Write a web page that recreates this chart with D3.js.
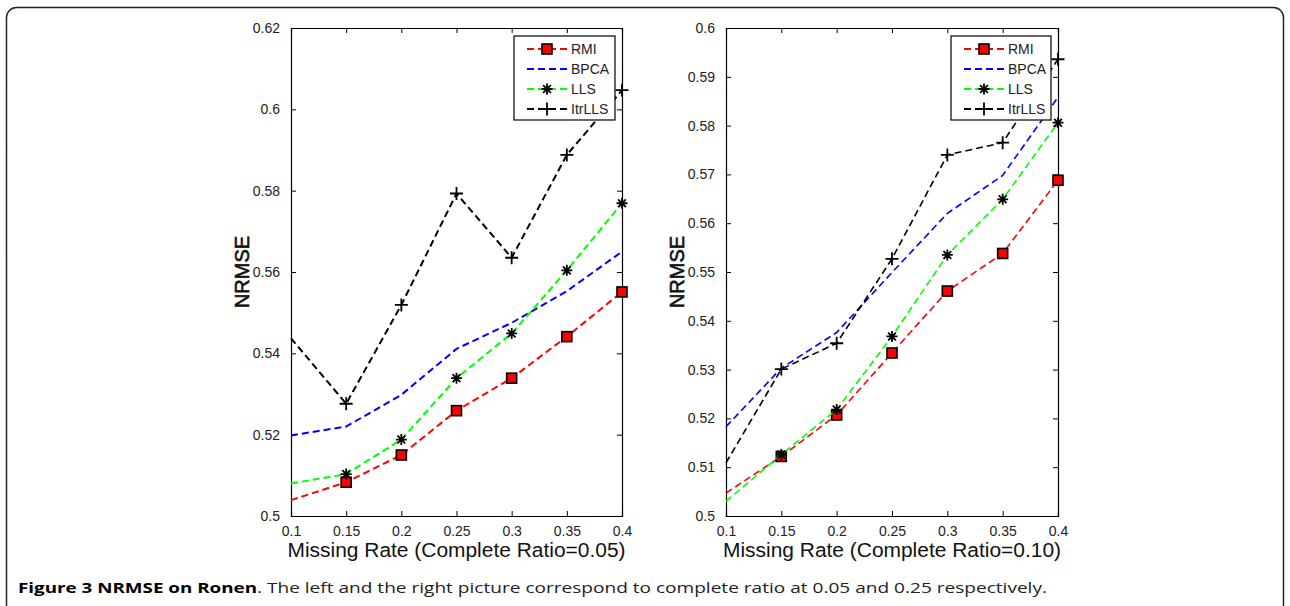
<!DOCTYPE html>
<html lang="en">
<head>
    <meta charset="UTF-8">
    <title>Figure 3 NRMSE on Ronen</title>
    <style>
        body {
            margin: 0;
            background: white;
            font-family: 'Liberation Sans', Arial, sans-serif;
        }
        .tick text { font-family: 'Liberation Sans', Arial, sans-serif; }
    </style>
    <script src="https://d3js.org/d3.v7.min.js"></script>
</head>
<body>
    <div id="chart"></div>
    <script>
        // missing rate on the x axis
        const missingRates = [0.1, 0.15, 0.2, 0.25, 0.3, 0.35, 0.4];
        const methods = ["RMI", "BPCA", "LLS", "ItrLLS"];

        // complete ratio = 0.05
        const rmiLeft    = [0.5039, 0.5083, 0.5150, 0.5259, 0.5339, 0.5441, 0.5551];
        const bpcaLeft   = [0.5198, 0.5220, 0.5298, 0.5411, 0.5475, 0.5553, 0.5650];
        const llsLeft    = [0.5080, 0.5103, 0.5188, 0.5339, 0.5449, 0.5604, 0.5769];
        const itrllsLeft = [0.5437, 0.5276, 0.5519, 0.5793, 0.5635, 0.5888, 0.6047];

        // complete ratio = 0.10
        const rmiRight    = [0.5047, 0.5122, 0.5207, 0.5334, 0.5461, 0.5538, 0.5688];
        const bpcaRight   = [0.5183, 0.5303, 0.5376, 0.5499, 0.5620, 0.5698, 0.5858];
        const llsRight    = [0.5030, 0.5126, 0.5218, 0.5368, 0.5535, 0.5649, 0.5806];
        const itrllsRight = [0.5109, 0.5301, 0.5354, 0.5527, 0.5740, 0.5765, 0.5936];

        const xTicks = [0.1, 0.15, 0.2, 0.25, 0.3, 0.35, 0.4];
        const yTicksLeft = [0.5, 0.52, 0.54, 0.56, 0.58, 0.6, 0.62];
        const yTicksRight = [0.5, 0.51, 0.52, 0.53, 0.54, 0.55, 0.56, 0.57, 0.58, 0.59, 0.6];

        const styles = {
            RMI:    { color: "#ff0000", marker: "square" },
            BPCA:   { color: "#0000ff", marker: null },
            LLS:    { color: "#00ff00", marker: "star" },
            ItrLLS: { color: "#000000", marker: "plus" }
        };

        const width = 1290, height = 606;
        const svg = d3.select("#chart").append("svg")
            .attr("width", width)
            .attr("height", height);

        // figure frame
        svg.append("rect")
            .attr("x", 6.5).attr("y", 7.5)
            .attr("width", 1277).attr("height", 620)
            .attr("rx", 10).attr("ry", 10)
            .attr("fill", "none")
            .attr("stroke", "#222")
            .attr("stroke-width", 1.5);

        const panels = [
            {
                left: 291, right: 622, top: 28, bottom: 516,
                yDomain: [0.5, 0.62], yTicks: yTicksLeft, yFmt: d3.format(".2~f"),
                series: [rmiLeft, bpcaLeft, llsLeft, itrllsLeft],
                xlabel: "Missing Rate (Complete Ratio=0.05)",
                legend: { x: 514, y: 36, w: 101, h: 84 },
                lw: 2
            },
            {
                left: 726, right: 1058, top: 28, bottom: 516,
                yDomain: [0.5, 0.6], yTicks: yTicksRight, yFmt: d3.format(".2~f"),
                series: [rmiRight, bpcaRight, llsRight, itrllsRight],
                xlabel: "Missing Rate (Complete Ratio=0.10)",
                legend: { x: 951, y: 36, w: 100, h: 84 },
                lw: 1.6
            }
        ];

        function drawMarker(g, type, x, y) {
            if (type === "square") {
                g.append("rect")
                    .attr("x", x - 5).attr("y", y - 5)
                    .attr("width", 10).attr("height", 10)
                    .attr("fill", "#ff0000")
                    .attr("stroke", "#000")
                    .attr("stroke-width", 1.6);
            } else if (type === "star") {
                const r = 5.5;
                const p = d3.path();
                for (let a = 0; a < 180; a += 45) {
                    const t = (a + 90) * Math.PI / 180;
                    p.moveTo(x - r * Math.cos(t), y - r * Math.sin(t));
                    p.lineTo(x + r * Math.cos(t), y + r * Math.sin(t));
                }
                g.append("path").attr("d", p.toString())
                    .attr("stroke", "#000").attr("stroke-width", 1.8);
            } else if (type === "plus") {
                const r = 6.5;
                g.append("path")
                    .attr("d", `M${x - r},${y}H${x + r}M${x},${y - r}V${y + r}`)
                    .attr("stroke", "#000").attr("stroke-width", 1.8);
            }
        }

        panels.forEach(pn => {
            const x = d3.scaleLinear().domain([0.1, 0.4]).range([pn.left, pn.right]);
            const y = d3.scaleLinear().domain(pn.yDomain).range([pn.bottom, pn.top]);
            const g = svg.append("g");

            // axes box with inward ticks on all sides
            const axFont = "14px";
            const bottomAxis = g.append("g")
                .attr("transform", `translate(0,${pn.bottom})`)
                .call(d3.axisBottom(x).tickValues(xTicks).tickSize(-5).tickPadding(9)
                    .tickFormat(d3.format(".2~f")));
            const topAxis = g.append("g")
                .attr("transform", `translate(0,${pn.top})`)
                .call(d3.axisTop(x).tickValues(xTicks).tickSize(-5).tickFormat(""));
            const leftAxis = g.append("g")
                .attr("transform", `translate(${pn.left},0)`)
                .call(d3.axisLeft(y).tickValues(pn.yTicks).tickSize(-5).tickPadding(11)
                    .tickFormat(pn.yFmt));
            const rightAxis = g.append("g")
                .attr("transform", `translate(${pn.right},0)`)
                .call(d3.axisRight(y).tickValues(pn.yTicks).tickSize(-5).tickFormat(""));

            [bottomAxis, topAxis, leftAxis, rightAxis].forEach(a => {
                a.select(".domain").attr("stroke", "#000").attr("stroke-width", 1.2);
                a.selectAll(".tick line").attr("stroke", "#000");
                a.selectAll(".tick text").attr("font-size", axFont).attr("fill", "#222");
            });
            bottomAxis.selectAll(".tick text").attr("dy", "0.75em");

            // series
            pn.series.forEach((vals, i) => {
                const name = methods[i];
                const st = styles[name];
                const pts = missingRates.map((r, k) => [r, vals[k]]);
                const line = d3.line().x(d => x(d[0])).y(d => y(d[1]));
                g.append("path")
                    .attr("d", line(pts))
                    .attr("fill", "none")
                    .attr("stroke", st.color)
                    .attr("stroke-width", pn.lw)
                    .attr("stroke-dasharray", "7,4");
                if (st.marker) {
                    pts.filter(d => d[0] > 0.1).forEach(d => drawMarker(g, st.marker, x(d[0]), y(d[1])));
                }
            });

            // legend
            const lg = pn.legend;
            g.append("rect")
                .attr("x", lg.x).attr("y", lg.y)
                .attr("width", lg.w).attr("height", lg.h)
                .attr("fill", "white")
                .attr("stroke", "#000")
                .attr("stroke-width", 1.2);
            methods.forEach((name, i) => {
                const st = styles[name];
                const ly = lg.y + 13 + i * 20;
                const lx = lg.x + 13;
                g.append("line")
                    .attr("x1", lx).attr("x2", lx + 40)
                    .attr("y1", ly).attr("y2", ly)
                    .attr("stroke", st.color)
                    .attr("stroke-width", 1.8)
                    .attr("stroke-dasharray", "7,4");
                if (st.marker) drawMarker(g, st.marker, lx + 20, ly);
                g.append("text")
                    .attr("x", lx + 44).attr("y", ly)
                    .attr("dy", "0.36em")
                    .attr("font-size", "14px")
                    .attr("fill", "#222")
                    .text(name);
            });

            // axis labels
            g.append("text")
                .attr("x", (pn.left + pn.right) / 2)
                .attr("y", 557)
                .attr("text-anchor", "middle")
                .attr("font-size", "20px")
                .attr("textLength", 338)
                .attr("lengthAdjust", "spacingAndGlyphs")
                .attr("fill", "#111")
                .text(pn.xlabel);
            g.append("text")
                .attr("transform", `translate(${pn.left - 42},${(pn.top + pn.bottom) / 2}) rotate(-90)`)
                .attr("text-anchor", "middle")
                .attr("font-size", "20px")
                .attr("fill", "#111")
                .attr("stroke", "#111")
                .attr("stroke-width", 0.6)
                .text("NRMSE");
        });

        // caption
        svg.append("text")
            .attr("x", 18).attr("y", 593)
            .attr("font-family", "'Open Sans', sans-serif")
            .attr("font-weight", "bold")
            .attr("font-size", "15px")
            .attr("textLength", 239)
            .attr("lengthAdjust", "spacingAndGlyphs")
            .text("Figure 3 NRMSE on Ronen");
        svg.append("text")
            .attr("x", 257).attr("y", 593)
            .attr("font-family", "'Open Sans', sans-serif")
            .attr("font-size", "15px")
            .attr("fill", "#222")
            .attr("textLength", 790)
            .attr("lengthAdjust", "spacingAndGlyphs")
            .text(". The left and the right picture correspond to complete ratio at 0.05 and 0.25 respectively.");
    </script>
</body>
</html>
